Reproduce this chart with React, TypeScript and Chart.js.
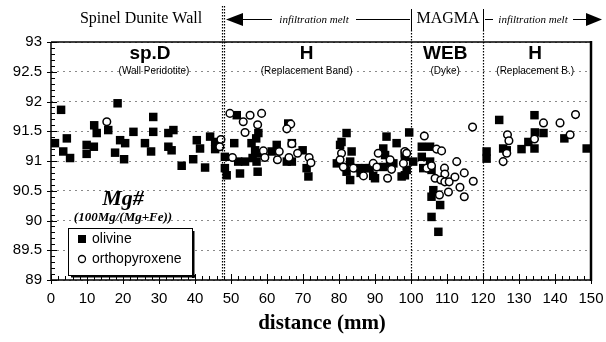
import React, { useEffect, useRef } from "react";
import { Chart, registerables } from "chart.js";

Chart.register(...registerables);

// ---- data ----
const olivineX = [
  2.8, 1.1, 4.4, 3.4, 5.3, 9.9, 11.9, 9.9, 12.0, 12.7, 15.9, 18.5, 17.8, 19.2, 20.6, 20.3, 22.9,
  28.4, 28.4, 26.1, 27.8, 32.6, 34.0, 32.6, 33.5, 36.3, 39.5, 40.5, 41.4, 42.8, 44.2, 45.6, 45.6,
  48.3, 48.3, 48.8,
  51.6, 57.6, 50.9, 55.7, 56.7, 57.6, 57.1, 52.0, 53.9, 52.5, 57.4, 57.0, 56.0, 61.3, 62.7, 65.9,
  66.9, 65.5, 66.9, 69.9, 71.0, 71.5,
  82.1, 80.7, 80.3, 83.5, 83.1, 79.4, 81.7, 82.1, 83.1, 85.4, 87.2, 86.0, 88.5, 89.5, 90.0,
  93.2, 96.0, 92.3, 92.8, 95.1, 94.2, 92.3, 98.3, 98.3, 97.4, 99.5,
  98.3, 103.0, 105.3, 100.6, 103.0, 105.3, 98.8, 103.4, 105.7, 106.2, 105.7, 108.1, 105.7, 107.6,
  121.0, 121.0, 124.5, 134.3, 134.4, 136.8, 132.6, 142.6, 125.6, 126.6, 130.7, 134.3, 148.8,
];
const olivineY = [
  91.86, 91.3, 91.38, 91.16, 91.05, 91.27, 91.24, 91.12, 91.6, 91.47, 91.52, 91.97, 91.14, 91.35, 91.3, 91.03, 91.49,
  91.74, 91.49, 91.3, 91.16, 91.47, 91.52, 91.24, 91.18, 90.92, 91.03, 91.35, 91.21, 90.89, 91.41, 91.32, 91.2,
  91.07, 90.88, 90.76,
  91.77, 91.47, 91.3, 91.3, 91.18, 91.13, 90.99, 90.99, 90.99, 90.79, 90.82, 91.38, 91.05, 91.16, 91.27, 91.63,
  91.3, 90.99, 90.99, 91.18, 90.88, 90.74,
  91.47, 91.32, 91.27, 91.16, 90.99, 90.96, 90.9, 90.82, 90.68, 90.88, 90.88, 90.8, 90.88, 90.75, 90.71,
  91.41, 91.3, 91.21, 91.1, 90.96, 90.96, 90.9, 91.07, 90.76, 90.74, 91.48,
  91.13, 91.24, 91.24, 90.99, 91.07, 90.99, 90.85, 90.88, 90.85, 90.51, 90.4, 90.26, 90.06, 89.81,
  91.16, 91.04, 91.69, 91.77, 91.48, 91.47, 91.32, 91.38, 91.21, 91.18, 91.2, 91.21, 91.21,
];
const opxX = [
  15.5, 47.2, 46.9, 49.7, 53.4, 55.3, 58.5, 57.4, 53.9, 50.4, 59.0, 59.4, 63.4, 62.9, 66.6, 65.5,
  66.9, 66.1, 68.5, 71.7, 72.2,
  80.7, 80.3, 81.2, 84.0, 86.8, 89.5, 90.5, 90.9, 94.2, 94.6, 93.5, 97.9, 98.3,
  103.7, 98.8, 107.1, 108.5, 104.4, 105.7, 112.7, 109.3, 109.4, 114.8, 117.3, 106.7, 108.3, 109.4,
  110.6, 112.2, 113.6, 110.4, 107.9, 114.8, 117.1,
  126.8, 127.2, 136.8, 141.4, 145.7, 134.3, 144.2, 126.6, 125.6,
];
const opxY = [
  91.66, 91.36, 91.24, 91.8, 91.66, 91.77, 91.8, 91.61, 91.48, 91.06, 91.17, 91.06, 91.16, 91.02, 91.62, 91.54,
  91.29, 91.06, 91.13, 91.06, 90.97,
  91.13, 91.02, 90.9, 90.88, 90.75, 90.96, 90.9, 91.13, 91.02, 90.86, 90.71, 90.96, 91.16,
  91.42, 91.13, 91.2, 91.17, 90.88, 90.92, 90.99, 90.88, 90.78, 90.8, 90.66, 90.71, 90.68, 90.65,
  90.65, 90.73, 90.56, 90.48, 90.43, 90.4, 91.57,
  91.44, 91.34, 91.64, 91.64, 91.78, 91.37, 91.44, 91.13, 90.99,
];
const regionLabels = ["sp.D", "H", "WEB", "H"];
const regionSubLabels = ["(Wall Peridotite)", "(Replacement Band)", "(Dyke)", "(Replacement B.)"];
const regionCenters = [27.5, 71, 109.5, 134.5];
const boundaries = [47.5, 100, 120];

const SANS = "'Liberation Sans', Arial, sans-serif";
const SERIF = "'Liberation Serif', 'Times New Roman', serif";

const overlay = {
  id: "overlay",
  afterDraw(chart: any) {
    const { ctx, chartArea } = chart;
    const { left, right, top, bottom } = chartArea;
    const xs = chart.scales.x;
    const ys = chart.scales.y;
    ctx.save();
    ctx.fillStyle = "#000";
    ctx.strokeStyle = "#000";

    // boundaries
    boundaries.forEach((b, i) => {
      const px = Math.round(xs.getPixelForValue(b)) + 0.5;
      ctx.setLineDash([1.5, 1.5]);
      ctx.lineWidth = 1.2;
      ctx.beginPath();
      ctx.moveTo(px, i === 0 ? 6 : 30);
      ctx.lineTo(px, bottom);
      ctx.stroke();
      if (i === 0) {
        ctx.beginPath();
        ctx.moveTo(px + 2, 6);
        ctx.lineTo(px + 2, bottom);
        ctx.stroke();
      }
      ctx.setLineDash([]);
      if (i > 0) {
        ctx.lineWidth = 1;
        ctx.beginPath();
        ctx.moveTo(px, 9);
        ctx.lineTo(px, 30);
        ctx.stroke();
      }
    });

    // frame
    ctx.setLineDash([]);
    ctx.lineWidth = 1.5;
    ctx.beginPath();
    ctx.moveTo(left, top);
    ctx.lineTo(right, top);
    ctx.moveTo(left, top);
    ctx.lineTo(left, bottom);
    ctx.lineTo(right, bottom);
    ctx.stroke();
    ctx.lineWidth = 2.5;
    ctx.beginPath();
    ctx.moveTo(right, top - 1);
    ctx.lineTo(right, bottom + 1);
    ctx.stroke();

    // ticks
    ctx.lineWidth = 1;
    for (let i = 0; i <= 40; i++) {
      const py = Math.round(ys.getPixelForValue(89 + i * 0.1)) + 0.5;
      const major = i % 5 === 0;
      ctx.beginPath();
      ctx.moveTo(left - (major ? 4 : 0), py);
      ctx.lineTo(left + (major ? 6 : 4), py);
      ctx.stroke();
    }
    for (let i = 0; i <= 75; i++) {
      const v = i * 2;
      const px = Math.round(xs.getPixelForValue(v)) + 0.5;
      const major = v % 10 === 0;
      ctx.beginPath();
      ctx.moveTo(px, bottom + (major ? 4 : 0));
      ctx.lineTo(px, bottom - (major ? 6 : 4));
      ctx.stroke();
    }

    // header
    ctx.textBaseline = "middle";
    ctx.textAlign = "center";
    ctx.font = `16px ${SERIF}`;
    ctx.fillText("Spinel Dunite Wall", 141, 19);
    ctx.fillText("MAGMA", 448, 19);
    ctx.font = `italic 11px ${SERIF}`;
    ctx.fillText("infiltration melt", 314, 20);
    ctx.fillText("infiltration melt", 533, 20);
    ctx.lineWidth = 1;
    ctx.beginPath();
    ctx.moveTo(240, 19.5);
    ctx.lineTo(272, 19.5);
    ctx.moveTo(356, 19.5);
    ctx.lineTo(410, 19.5);
    ctx.moveTo(485, 19.5);
    ctx.lineTo(493, 19.5);
    ctx.moveTo(573, 19.5);
    ctx.lineTo(588, 19.5);
    ctx.stroke();
    ctx.beginPath();
    ctx.moveTo(226, 19.5);
    ctx.lineTo(243, 13);
    ctx.lineTo(243, 26);
    ctx.closePath();
    ctx.fill();
    ctx.beginPath();
    ctx.moveTo(602, 19.5);
    ctx.lineTo(586, 13);
    ctx.lineTo(586, 26);
    ctx.closePath();
    ctx.fill();

    // region labels
    regionLabels.forEach((lab, i) => {
      const px = xs.getPixelForValue(regionCenters[i]);
      ctx.font = `bold 19px ${SANS}`;
      ctx.fillText(lab, px, 54);
      ctx.font = `10px ${SANS}`;
      ctx.fillText(regionSubLabels[i], px + (i === 0 ? 4 : 0), 71);
    });

    // Mg#
    ctx.font = `bold italic 22px ${SERIF}`;
    ctx.fillText("Mg#", 123, 199);
    ctx.font = `bold italic 13px ${SERIF}`;
    ctx.fillText("(100Mg/(Mg+Fe))", 123, 218);

    // legend
    const bx = 68, by = 228, bw = 124, bh = 47;
    ctx.fillStyle = "#fff";
    ctx.fillRect(bx, by, bw, bh);
    ctx.fillStyle = "#000";
    ctx.fillRect(bx + 3, by + bh, bw, 2.5);
    ctx.fillRect(bx + bw, by + 3, 2.5, bh);
    ctx.lineWidth = 1;
    ctx.strokeRect(bx + 0.5, by + 0.5, bw, bh);
    ctx.fillRect(78, 235, 8, 8);
    ctx.beginPath();
    ctx.arc(82, 259, 3.5, 0, Math.PI * 2);
    ctx.lineWidth = 1.3;
    ctx.stroke();
    ctx.font = `14px ${SANS}`;
    ctx.textAlign = "left";
    ctx.fillText("olivine", 92, 239);
    ctx.fillText("orthopyroxene", 92, 259);

    // x title
    ctx.textAlign = "center";
    ctx.font = `bold 21px ${SERIF}`;
    ctx.fillText("distance (mm)", 322, 324);
    ctx.restore();
  },
};

export default function App() {
  const ref = useRef<HTMLCanvasElement>(null);
  useEffect(() => {
    document.body.style.margin = "0";
    const chart = new Chart(ref.current as HTMLCanvasElement, {
      type: "scatter",
      data: {
        datasets: [
          {
            label: "orthopyroxene",
            data: opxX.map((x, i) => ({ x, y: opxY[i] })),
            pointStyle: "circle",
            pointRadius: 3.8,
            pointBorderWidth: 1.5,
            pointBackgroundColor: "#fff",
            pointBorderColor: "#000",
          },
          {
            label: "olivine",
            data: olivineX.map((x, i) => ({ x, y: olivineY[i] })),
            pointStyle: "rect",
            pointRadius: 6,
            pointBorderWidth: 0,
            pointBackgroundColor: "#000",
            pointBorderColor: "#000",
          },
        ],
      },
      options: {
        responsive: false,
        animation: false,
        events: [],
        layout: { padding: { left: 0, right: 15, top: 42, bottom: 0 } },
        plugins: { legend: { display: false }, tooltip: { enabled: false } },
        scales: {
          x: {
            type: "linear",
            min: 0,
            max: 150,
            afterFit: (s: any) => {
              s.height = 62;
              s.paddingLeft = 0;
              s.paddingRight = 0;
            },
            ticks: {
              stepSize: 10,
              autoSkip: false,
              maxRotation: 0,
              padding: 10,
              color: "#000",
              font: { family: SANS, size: 15 },
              callback: (v: any) => String(v),
            },
            grid: { display: false, drawTicks: false },
            border: { display: false },
          },
          y: {
            type: "linear",
            min: 89,
            max: 93,
            afterFit: (s: any) => {
              s.width = 51;
              s.paddingTop = 0;
              s.paddingBottom = 0;
            },
            ticks: {
              stepSize: 0.5,
              padding: 9,
              color: "#000",
              font: { family: SANS, size: 15 },
              callback: (v: any) => String(v),
            },
            grid: { color: "#8a8a8a", lineWidth: 1, drawTicks: false },
            border: { display: false, dash: [2, 4] },
          },
        },
      },
      plugins: [overlay],
    });
    return () => chart.destroy();
  }, []);
  return (
    <div style={{ width: 606, height: 342, position: "relative" }}>
      <canvas ref={ref} width={606} height={342} />
    </div>
  );
}
